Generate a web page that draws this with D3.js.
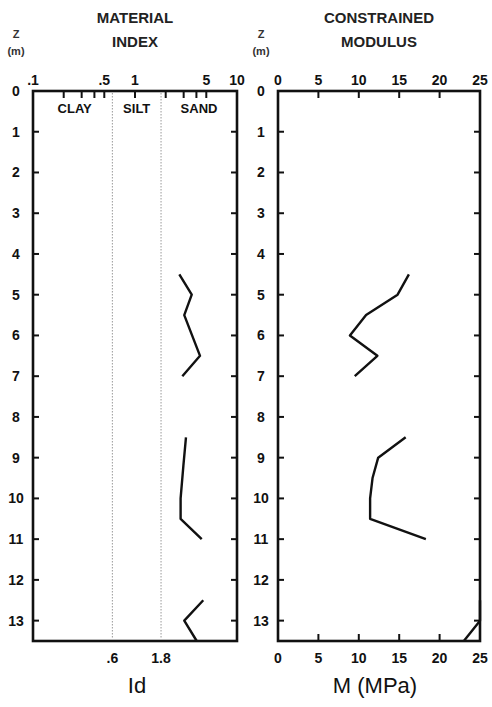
<!DOCTYPE html>
<html lang="en">
<head>
    <meta charset="UTF-8">
    <title>Material index and constrained modulus</title>
    <script src="https://cdn.jsdelivr.net/npm/d3@7"></script>
    <style>
        body { margin: 0; background: #fff; }
        svg { display: block; font-family: "Liberation Sans", Arial, sans-serif; }
        .tick-num { font-size: 14px; font-weight: bold; fill: #111; }
        .title { font-size: 15px; font-weight: bold; fill: #222; }
        .soil { font-size: 13px; font-weight: bold; fill: #111; }
        .axis-name { font-size: 22px; fill: #111; }
        .z { font-size: 11px; font-weight: bold; fill: #333; }
    </style>
</head>
<body>
<svg id="chart" width="492" height="707"></svg>
<script>
    // depth ticks (m)
    var depthTicks = [0, 1, 2, 3, 4, 5, 6, 7, 8, 9, 10, 11, 12, 13]

    // material index Id, log axis
    var idLabels = [0.1, 0.5, 1, 5, 10]
    var idMinor = [0.2, 0.3, 0.4, 0.5, 1, 2, 3, 4, 5]
    var soilBounds = [0.6, 1.8]
    var soilNames = ['CLAY', 'SILT', 'SAND']
    var idSeg1Depth = [4.5, 5.0, 5.5, 6.5, 7.0]
    var idSeg1 = [2.72, 3.6, 3.04, 4.34, 2.91]
    var idSeg2Depth = [8.5, 9.2, 10.0, 10.5, 11.0]
    var idSeg2 = [3.16, 2.98, 2.8, 2.8, 4.51]
    var idSeg3Depth = [12.5, 13.0, 13.5]
    var idSeg3 = [4.67, 3.04, 4.03]

    // constrained modulus M (MPa)
    var mTicks = [0, 5, 10, 15, 20, 25]
    var mSeg1Depth = [4.5, 5.0, 5.5, 6.0, 6.5, 7.0]
    var mSeg1 = [16.2, 14.8, 10.9, 8.9, 12.3, 9.5]
    var mSeg2Depth = [8.5, 9.0, 9.5, 10.0, 10.5, 11.0]
    var mSeg2 = [15.8, 12.4, 11.7, 11.4, 11.4, 18.3]
    var mSeg3Depth = [12.5, 13.0, 13.5]
    var mSeg3 = [25, 25, 23]

    var svg = d3.select('#chart')
    var TOP = 91, BOTTOM = 641

    var y = d3.scaleLinear().domain([0, 13.5]).range([TOP, BOTTOM])
    var xId = d3.scaleLog().domain([0.1, 10]).range([33, 237])
    var xM = d3.scaleLinear().domain([0, 25]).range([278, 480])

    function zip (vals, depths) {
        return vals.map(function (v, i) { return [v, depths[i]] })
    }

    function drawPanel (x, opts) {
        var g = svg.append('g')
        var x0 = x.range()[0], x1 = x.range()[1]

        // depth ticks, inward on both sides
        g.selectAll('.ytl').data(depthTicks.slice(1)).enter().append('line')
            .attr('x1', x0).attr('x2', x0 + 6)
            .attr('y1', function (d) { return y(d) }).attr('y2', function (d) { return y(d) })
            .attr('stroke', '#111').attr('stroke-width', 2)
        g.selectAll('.ytr').data(depthTicks.slice(1)).enter().append('line')
            .attr('x1', x1).attr('x2', x1 - 6)
            .attr('y1', function (d) { return y(d) }).attr('y2', function (d) { return y(d) })
            .attr('stroke', '#111').attr('stroke-width', 2)
        g.selectAll('.ylab').data(depthTicks).enter().append('text')
            .attr('class', 'tick-num')
            .attr('x', x0 - 17).attr('y', function (d) { return y(d) + 5 })
            .attr('text-anchor', 'middle')
            .text(function (d) { return d })

        // top ticks
        g.selectAll('.xt').data(opts.ticks).enter().append('line')
            .attr('x1', function (d) { return x(d) }).attr('x2', function (d) { return x(d) })
            .attr('y1', TOP).attr('y2', TOP + 7)
            .attr('stroke', '#111').attr('stroke-width', 2)
        g.selectAll('.xl').data(opts.labels).enter().append('text')
            .attr('class', 'tick-num')
            .attr('x', function (d) { return x(d) })
            .attr('y', 85)
            .attr('text-anchor', 'middle')
            .text(opts.fmt)

        // lines
        var line = d3.line().x(function (d) { return x(d[0]) }).y(function (d) { return y(d[1]) })
        opts.series.forEach(function (s) {
            g.append('path').attr('d', line(s))
                .attr('fill', 'none').attr('stroke', '#111').attr('stroke-width', 2.4)
                .attr('stroke-linejoin', 'round')
        })

        // frame
        g.append('rect').attr('x', x0).attr('y', TOP)
            .attr('width', x1 - x0).attr('height', BOTTOM - TOP)
            .attr('fill', 'none').attr('stroke', '#111').attr('stroke-width', 2.6)

        // titles
        var cx = (x0 + x1) / 2
        g.append('text').attr('class', 'title').attr('x', cx).attr('y', 23)
            .attr('text-anchor', 'middle').text(opts.title[0])
        g.append('text').attr('class', 'title').attr('x', cx).attr('y', 47)
            .attr('text-anchor', 'middle').text(opts.title[1])
        g.append('text').attr('class', 'z').attr('x', x0 - 17).attr('y', 38)
            .attr('text-anchor', 'middle').text('Z')
        g.append('text').attr('class', 'z').attr('x', x0 - 17).attr('y', 55)
            .attr('text-anchor', 'middle').attr('font-size', 9).text('(m)')
        g.append('text').attr('class', 'axis-name').attr('x', cx + (opts.nameDx || 0)).attr('y', 693)
            .attr('text-anchor', 'middle').text(opts.name)
        return g
    }

    var fmtId = function (d) { return d < 1 ? String(d).replace(/^0/, '') : d }

    var left = drawPanel(xId, {
        ticks: idMinor, labels: idLabels, fmt: fmtId,
        title: ['MATERIAL', 'INDEX'], name: 'Id', nameDx: 2,
        series: [zip(idSeg1, idSeg1Depth), zip(idSeg2, idSeg2Depth), zip(idSeg3, idSeg3Depth)]
    })

    // soil boundaries
    left.selectAll('.bound').data(soilBounds).enter().append('line')
        .attr('x1', function (d) { return xId(d) }).attr('x2', function (d) { return xId(d) })
        .attr('y1', TOP + 2).attr('y2', BOTTOM - 2)
        .attr('stroke', '#999').attr('stroke-width', 1).attr('stroke-dasharray', '1.5,1.5')
    left.selectAll('.blab').data(soilBounds).enter().append('text')
        .attr('class', 'tick-num')
        .attr('x', function (d) { return xId(d) }).attr('y', 663)
        .attr('text-anchor', 'middle')
        .text(fmtId)
    var zoneCentres = [Math.sqrt(0.1 * soilBounds[0]), Math.sqrt(soilBounds[0] * soilBounds[1]), Math.sqrt(soilBounds[1] * 10)]
    left.selectAll('.soil').data(soilNames).enter().append('text')
        .attr('class', 'soil')
        .attr('x', function (d, i) { return xId(zoneCentres[i]) + [2, 0, 0][i] })
        .attr('y', 113)
        .attr('text-anchor', 'middle')
        .text(function (d) { return d })

    var right = drawPanel(xM, {
        ticks: mTicks.slice(1, -1), labels: mTicks, fmt: function (d) { return d },
        title: ['CONSTRAINED', 'MODULUS'], name: 'M (MPa)', nameDx: -4,
        series: [zip(mSeg1, mSeg1Depth), zip(mSeg2, mSeg2Depth), zip(mSeg3, mSeg3Depth)]
    })

    // bottom ticks of modulus panel
    right.selectAll('.bt').data(mTicks.slice(1, -1)).enter().append('line')
        .attr('x1', function (d) { return xM(d) }).attr('x2', function (d) { return xM(d) })
        .attr('y1', BOTTOM).attr('y2', BOTTOM - 7)
        .attr('stroke', '#111').attr('stroke-width', 2)
    right.selectAll('.bl').data(mTicks).enter().append('text')
        .attr('class', 'tick-num')
        .attr('x', function (d) { return xM(d) }).attr('y', 663)
        .attr('text-anchor', 'middle')
        .text(function (d) { return d })
</script>
</body>
</html>
